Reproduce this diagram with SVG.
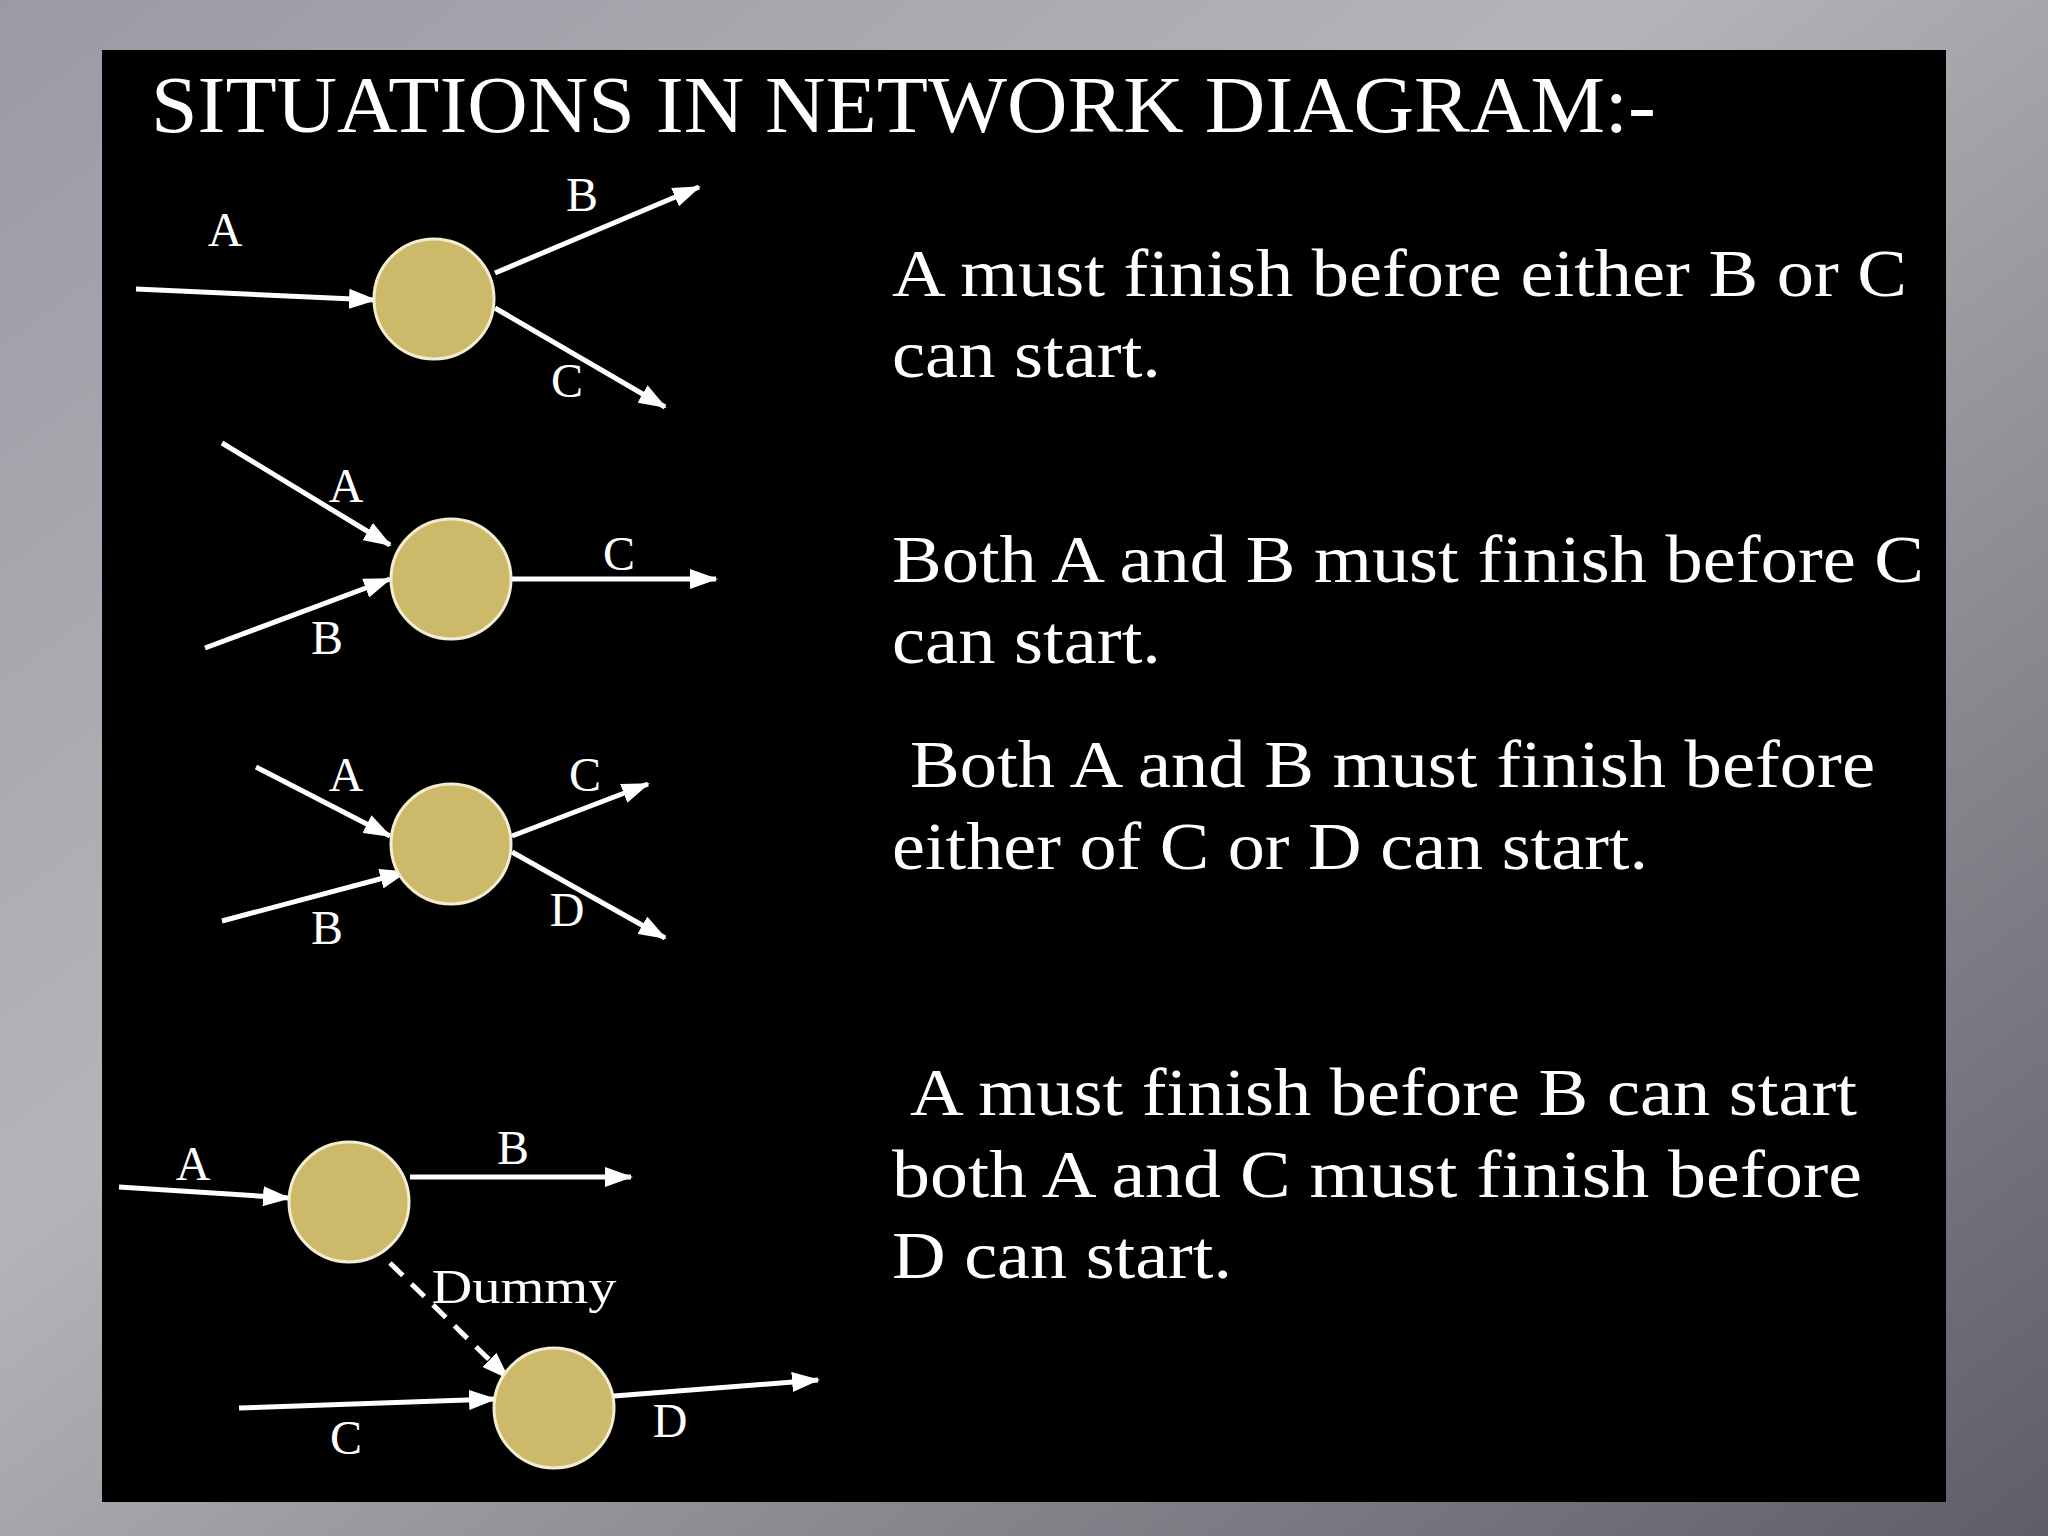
<svg xmlns="http://www.w3.org/2000/svg" width="2048" height="1536" viewBox="0 0 2048 1536">
<defs>
<linearGradient id="bg" x1="0" y1="0" x2="1" y2="1">
<stop offset="0" stop-color="#9a9aa2"/><stop offset="0.4" stop-color="#b4b4bb"/><stop offset="1" stop-color="#5e5e66"/>
</linearGradient>
<marker id="ah" markerUnits="userSpaceOnUse" markerWidth="28" markerHeight="20" refX="26" refY="10" orient="auto">
<path d="M0,0 L28,10 L0,20 Z" fill="#fff"/>
</marker>
</defs>
<style>
.t{font-family:"Liberation Serif",serif;fill:#fff}
.big{font-size:68px}
.lb{font-size:48px;text-anchor:middle}
.c{fill:#cdb96a;stroke:#f3ecd0;stroke-width:3}
.e{stroke:#fff;stroke-width:5;fill:none;marker-end:url(#ah)}
</style>
<rect width="2048" height="1536" fill="url(#bg)"/>
<rect x="102" y="50" width="1844" height="1452" fill="#000"/>
<text class="t" x="151" y="132" font-size="80" textLength="1505" lengthAdjust="spacingAndGlyphs">SITUATIONS IN NETWORK DIAGRAM:-</text>
<g id="desc">
<text class="t big" x="892" y="296" textLength="1015" lengthAdjust="spacingAndGlyphs">A must finish before either B or C</text>
<text class="t big" x="892" y="377" textLength="269" lengthAdjust="spacingAndGlyphs">can start.</text>
<text class="t big" x="892" y="582" textLength="1032" lengthAdjust="spacingAndGlyphs">Both A and B must finish before C</text>
<text class="t big" x="892" y="663" textLength="269" lengthAdjust="spacingAndGlyphs">can start.</text>
<text class="t big" x="910" y="787" textLength="965" lengthAdjust="spacingAndGlyphs">Both A and B must finish before</text>
<text class="t big" x="892" y="869" textLength="756" lengthAdjust="spacingAndGlyphs">either of C or D can start.</text>
<text class="t big" x="910" y="1115" textLength="947" lengthAdjust="spacingAndGlyphs">A must finish before B can start</text>
<text class="t big" x="892" y="1197" textLength="970" lengthAdjust="spacingAndGlyphs">both A and C must finish before</text>
<text class="t big" x="892" y="1278" textLength="340" lengthAdjust="spacingAndGlyphs">D can start.</text>
</g>
<g id="connectors">
<line class="e" x1="136" y1="289" x2="375" y2="300"/>
<line class="e" x1="495" y1="273" x2="699" y2="187"/>
<line class="e" x1="495" y1="308" x2="665" y2="407"/>
<line class="e" x1="222" y1="443" x2="390" y2="545"/>
<line class="e" x1="205" y1="648" x2="390" y2="579"/>
<line class="e" x1="512" y1="579" x2="716" y2="579"/>
<line class="e" x1="256" y1="767" x2="390" y2="836"/>
<line class="e" x1="222" y1="921" x2="406" y2="872"/>
<line class="e" x1="512" y1="836" x2="648" y2="784"/>
<line class="e" x1="512" y1="852" x2="665" y2="938"/>
<line class="e" x1="119" y1="1187" x2="289" y2="1198"/>
<line class="e" x1="410" y1="1177" x2="631" y2="1177"/>
<line class="e" x1="390" y1="1263" x2="508" y2="1378" stroke-dasharray="18 12"/>
<line class="e" x1="239" y1="1408" x2="495" y2="1399"/>
<line class="e" x1="614" y1="1396" x2="818" y2="1380"/>
</g>
<g id="n1"><circle class="c" cx="434" cy="299" r="60"/></g>
<g id="n2"><circle class="c" cx="451" cy="579" r="60"/></g>
<g id="n3"><circle class="c" cx="451" cy="844" r="60"/></g>
<g id="n4"><circle class="c" cx="349" cy="1202" r="60"/></g>
<g id="n5"><circle class="c" cx="554" cy="1408" r="60"/></g>
<g id="labels">
<text class="t lb" x="225" y="246">A</text>
<text class="t lb" x="582" y="211">B</text>
<text class="t lb" x="567" y="397">C</text>
<text class="t lb" x="346" y="502">A</text>
<text class="t lb" x="619" y="570">C</text>
<text class="t lb" x="327" y="654">B</text>
<text class="t lb" x="346" y="791">A</text>
<text class="t lb" x="585" y="791">C</text>
<text class="t lb" x="567" y="926">D</text>
<text class="t lb" x="327" y="944">B</text>
<text class="t lb" x="193" y="1180">A</text>
<text class="t lb" x="513" y="1164">B</text>
<text class="t lb" x="524" y="1303" textLength="185" lengthAdjust="spacingAndGlyphs">Dummy</text>
<text class="t lb" x="346" y="1454">C</text>
<text class="t lb" x="670" y="1437">D</text>
</g>
</svg>
